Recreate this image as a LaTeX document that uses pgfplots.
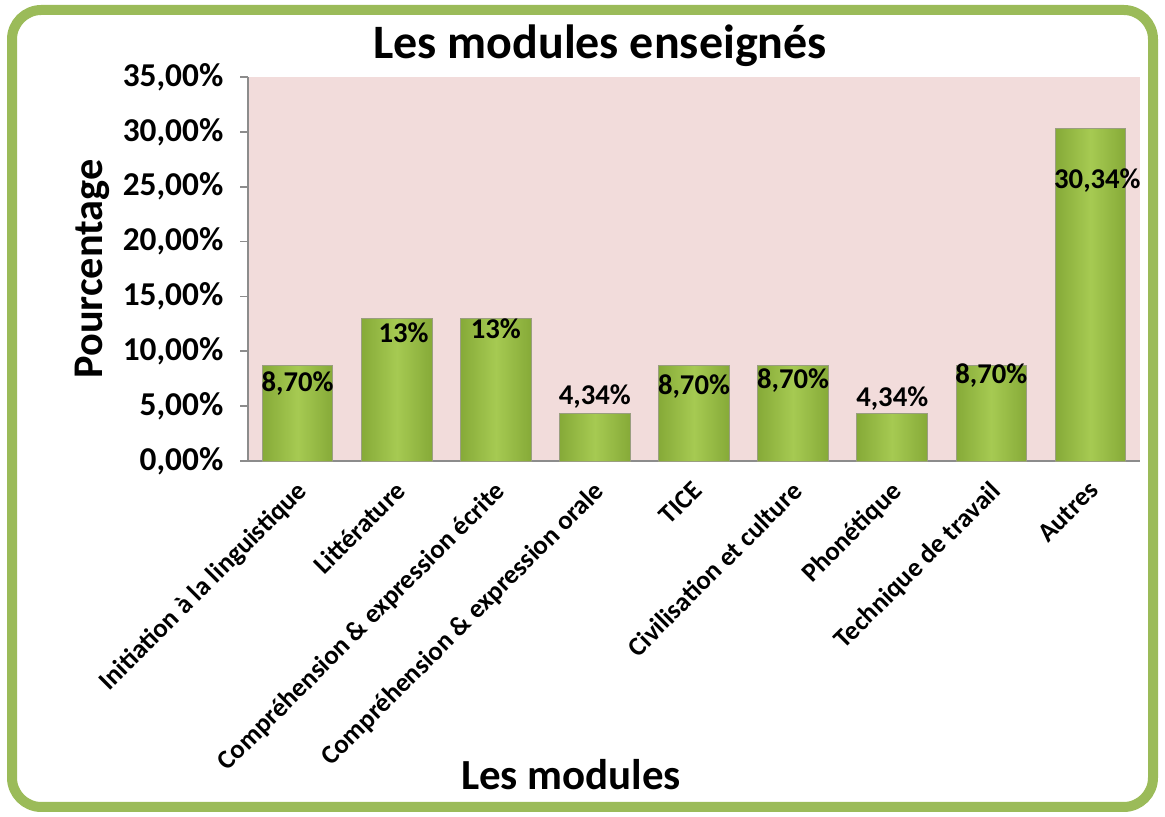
\documentclass[border=0pt]{standalone}
\usepackage{fontspec}
\setmainfont{Carlito}
\usepackage{pgfplots}
\pgfplotsset{compat=1.18}
\definecolor{frame}{HTML}{9BBB59}
\definecolor{plotbg}{HTML}{F2DCDB}
\definecolor{barmid}{HTML}{A6CA52}
\definecolor{baredge}{HTML}{86AA38}
\definecolor{bardraw}{HTML}{9A9E80}
\definecolor{axgray}{HTML}{8C8C8C}
\begin{document}
\begin{tikzpicture}
\useasboundingbox (0,0) rectangle (873.75pt,612.75pt);
\fill[white] (0,0) rectangle (873.75pt,612.75pt);
\draw[frame, line width=7.5pt, rounded corners=22pt] (9pt,7.5pt) rectangle (864.75pt,605.25pt);
\node[font=\fontsize{36}{37}\selectfont\bfseries] at (450pt,578.25pt) {Les modules enseignés};
\node[font=\fontsize{31.7}{32}\selectfont\bfseries, rotate=90] at (69pt,411pt) {Pourcentage};
\node[font=\fontsize{32.2}{33}\selectfont\bfseries] at (428.25pt,31.5pt) {Les modules};
\begin{axis}[
  at={(186pt,267pt)}, anchor=south west,
  scale only axis, width=669pt, height=288pt,
  xmin=-0.5, xmax=8.5, ymin=0, ymax=35,
  axis lines*=left,
  axis line style={axgray, line width=1.2pt},
  axis background/.style={fill=plotbg},
  ytick={0,5,...,35},
  yticklabels={{0,00\%},{5,00\%},{10,00\%},{15,00\%},{20,00\%},{25,00\%},{30,00\%},{35,00\%}},
  xtick={0,...,8},
  xticklabels={Initiation à la linguistique,Littérature,Compréhension \& expression écrite,Compréhension \& expression orale,TICE,Civilisation et culture,Phonétique,Technique de travail,Autres},
  x tick label style={rotate=45, anchor=north east, font=\fontsize{20}{20}\selectfont\bfseries, inner sep=2pt, yshift=-2pt, xshift=-5pt},
  y tick label style={font=\fontsize{25}{25}\selectfont\bfseries, xshift=-9pt},
  tick align=outside, major tick length=6pt,
  xtick style={draw=none},
  ytick style={axgray, line width=1.2pt},
  ybar, bar width=53pt, bar shift=0pt,
  clip=false,
  bstyle/.style={draw=bardraw, line width=0.6pt, left color=baredge, right color=baredge, middle color=barmid, bar shift=0pt},
]
\addplot[bstyle] coordinates {(0,8.70)};
\addplot[bstyle] coordinates {(1,13)};
\addplot[bstyle] coordinates {(2,13)};
\addplot[bstyle] coordinates {(3,4.34)};
\addplot[bstyle] coordinates {(4,8.70)};
\addplot[bstyle] coordinates {(5,8.70)};
\addplot[bstyle] coordinates {(6,4.34)};
\addplot[bstyle] coordinates {(7,8.70)};
\addplot[bstyle] coordinates {(8,30.34)};
\begin{scope}[every node/.style={font=\fontsize{21.5}{22}\selectfont\bfseries}]
\node at (axis cs:0,7.1) {8,70\%};
\node at (axis cs:1.07,11.7) {13\%};
\node at (axis cs:2,12.1) {13\%};
\node at (axis cs:3,5.9) {4,34\%};
\node at (axis cs:4,6.75) {8,70\%};
\node at (axis cs:5,7.3) {8,70\%};
\node at (axis cs:6,5.65) {4,34\%};
\node at (axis cs:7,7.75) {8,70\%};
\node at (axis cs:8.07,25.6) {30,34\%};
\end{scope}
\end{axis}
\end{tikzpicture}
\end{document}
